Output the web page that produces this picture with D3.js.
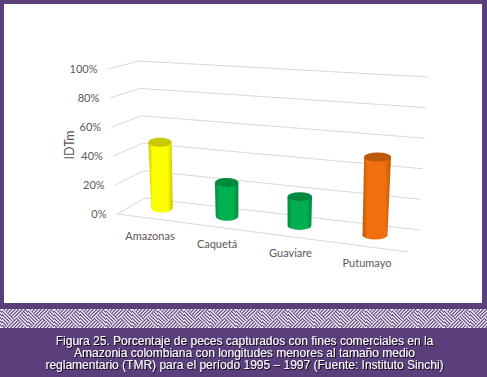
<!DOCTYPE html>
<html>
<head>
<meta charset="utf-8">
<script src="https://cdn.jsdelivr.net/npm/d3@7"></script>
<style>
  html, body { margin: 0; padding: 0; background: #5b3f7d; }
  svg { display: block; }
  .tick-label, .cat-label { font-family: Lato, sans-serif; font-size: 11px; fill: #595959; }
  .y-title { font-family: Lato, sans-serif; font-size: 12.5px; fill: #595959; }
  .caption { font-family: "Liberation Sans", Arial, sans-serif; font-size: 12px; fill: #fff; text-anchor: middle; }
</style>
</head>
<body>
<div id="chart-area"></div>
<script>
var categories = ["Amazonas", "Caquetá", "Guaviare", "Putumayo"];
var valores = [46, 23, 19, 50];
var ticks = [0, 20, 40, 60, 80, 100];
var coloresBarra = ["#ffff00", "#00b050", "#00b050", "#f07010"];
var coloresOscuros = ["#c8c800", "#008a3e", "#008a3e", "#bc5a08"];
var caption = [
    "Figura 25. Porcentaje de peces capturados con fines comerciales en la",
    "Amazonia colombiana con longitudes menores al tamaño medio",
    "reglamentario (TMR) para el período 1995 – 1997 (Fuente: Instituto Sinchi)"
];

var width = 487, height = 377;
var morado = "#5b3f7d";

var svg = d3.select("#chart-area").append("svg")
    .attr("width", width)
    .attr("height", height);

var defs = svg.append("defs");

// Gradiente de cada cilindro
categories.forEach(function(c, i) {
    var g = defs.append("linearGradient").attr("id", "cil" + i);
    g.append("stop").attr("offset", "0%").attr("stop-color", coloresOscuros[i]);
    g.append("stop").attr("offset", "18%").attr("stop-color", coloresBarra[i]);
    g.append("stop").attr("offset", "78%").attr("stop-color", coloresBarra[i]);
    g.append("stop").attr("offset", "100%").attr("stop-color", coloresOscuros[i]);
});

// Trama de la franja: cuatro triangulos con rayas cruzadas
var tw = 26, th = 19;
defs.append("clipPath").attr("id", "triVert")
    .append("path").attr("d", "M0,0 L" + tw + ",0 L0," + th + " L" + tw + "," + th + " Z");
defs.append("clipPath").attr("id", "triHoriz")
    .append("path").attr("d", "M0,0 L0," + th + " L" + tw + ",0 L" + tw + "," + th + " Z");

var trama = defs.append("pattern").attr("id", "trama")
    .attr("patternUnits", "userSpaceOnUse")
    .attr("width", tw).attr("height", th)
    .attr("x", 2).attr("y", 309);
trama.append("rect").attr("width", tw).attr("height", th).attr("fill", "#f4f1f7");
var capaA = trama.append("g").attr("clip-path", "url(#triVert)");
var capaB = trama.append("g").attr("clip-path", "url(#triHoriz)");
d3.range(-30, 60, 3.5).forEach(function(p) {
    capaA.append("line")
        .attr("x1", p).attr("y1", th).attr("x2", p + th).attr("y2", 0)
        .attr("stroke", morado).attr("stroke-width", 1.1);
    capaB.append("line")
        .attr("x1", p).attr("y1", 0).attr("x2", p + th).attr("y2", th)
        .attr("stroke", morado).attr("stroke-width", 1.1);
});

// Panel blanco
svg.append("rect").attr("x", 4).attr("y", 4).attr("width", 478).attr("height", 299).attr("fill", "#fff");
svg.append("rect").attr("x", 0).attr("y", 309).attr("width", width).attr("height", 19).attr("fill", "url(#trama)");

// Escalas de las paredes del gráfico 3D
var yFrente = d3.scaleLinear().domain([0, 100]).range([214, 69]);
var xFrente = d3.scaleLinear().domain([0, 100]).range([117, 108]);
var yFondo = d3.scaleLinear().domain([0, 100]).range([198, 61]);
var xFondo = d3.scaleLinear().domain([0, 100]).range([145, 139]);
var yDerecha = d3.scaleLinear().domain([0, 100]).range([230, 77]);
var xDerecha = d3.scaleLinear().domain([0, 100]).range([419, 428]);

var rejilla = svg.append("g");
ticks.forEach(function(t) {
    rejilla.append("polyline")
        .attr("points", [
            [xFrente(t), yFrente(t)],
            [xFondo(t), yFondo(t)],
            [xDerecha(t), yDerecha(t)]
        ].join(" "))
        .attr("fill", "none")
        .attr("stroke", "#d9d9d9")
        .attr("stroke-width", 1);
});

// Borde frontal del suelo
svg.append("line")
    .attr("x1", xFrente(0)).attr("y1", yFrente(0))
    .attr("x2", 408).attr("y2", 252)
    .attr("stroke", "#d9d9d9");

svg.append("g").selectAll("text")
    .data(ticks)
    .enter()
    .append("text")
    .classed("tick-label", true)
    .attr("text-anchor", "end")
    .attr("x", function(d) { return xFrente(d) - 10.5; })
    .attr("y", function(d) { return yFrente(d) + 3.5; })
    .text(function(d) { return d + "%"; });

svg.append("text")
    .classed("y-title", true)
    .attr("text-anchor", "middle")
    .attr("transform", "translate(74,145) rotate(-90)")
    .text("IDTm");

// Cilindros: la posición sigue la perspectiva del suelo
var posicion = d3.scalePoint().domain(categories).range([0, 1]);
var xBase = d3.scalePow().exponent(1.08).domain([0, 1]).range([162, 375]);
var yBase = d3.scaleLinear().domain([162, 375]).range([208, 235]);
var alturaPorcentaje = d3.scaleLinear().domain([162, 375]).range([1.43, 1.56]);
var radio = d3.scaleLinear().domain([162, 375]).range([10.8, 12.5]);

var barras = svg.append("g").selectAll("g")
    .data(categories)
    .enter()
    .append("g");

barras.each(function(c, i) {
    var x0 = xBase(posicion(c));
    var y0 = yBase(x0);
    var h = valores[i] * alturaPorcentaje(x0);
    var x1 = x0 + (x0 - 265) * h * 0.0003;
    var y1 = y0 - h;
    var r0 = radio(x0);
    var r1 = r0 + h * 0.012;
    var sel = d3.select(this);
    sel.append("path")
        .attr("d", "M" + (x1 - r1) + "," + y1 +
            " L" + (x0 - r0) + "," + y0 +
            " A" + r0 + ",4.5 0 0 0 " + (x0 + r0) + "," + y0 +
            " L" + (x1 + r1) + "," + y1 + " Z")
        .attr("fill", "url(#cil" + i + ")");
    sel.append("ellipse")
        .attr("cx", x1).attr("cy", y1)
        .attr("rx", r1).attr("ry", 4.5)
        .attr("fill", coloresOscuros[i]);
});

var ajusteEtiqueta = [-12, -10, -9, -8];
svg.append("g").selectAll("text")
    .data(categories)
    .enter()
    .append("text")
    .classed("cat-label", true)
    .attr("text-anchor", "middle")
    .attr("x", function(d, i) { return xBase(posicion(d)) + ajusteEtiqueta[i]; })
    .attr("y", function(d) { return yBase(xBase(posicion(d))) + 32; })
    .text(function(d) { return d; });

// Pie de figura
defs.append("filter").attr("id", "sombra")
    .append("feDropShadow")
    .attr("dx", 1).attr("dy", 1).attr("stdDeviation", 0.6)
    .attr("flood-color", "#000").attr("flood-opacity", 0.8);

svg.append("g").attr("filter", "url(#sombra)").selectAll("text")
    .data(caption)
    .enter()
    .append("text")
    .classed("caption", true)
    .attr("x", 244.5)
    .attr("y", function(d, i) { return 345 + i * 12; })
    .text(function(d) { return d; });
</script>
</body>
</html>
